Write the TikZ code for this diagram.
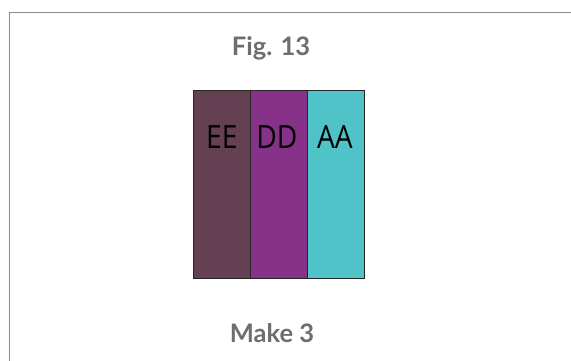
\documentclass[tikz,border=0pt]{standalone}
\usepackage{fontspec}
\newfontfamily\titlefont{Lato}
\newfontfamily\labfont{Open Sans}
\definecolor{frame}{HTML}{8C8C8C}
\definecolor{titlegray}{HTML}{6E6E6E}
\definecolor{ee}{HTML}{654052}
\definecolor{dd}{HTML}{863288}
\definecolor{aa}{HTML}{4FC3C8}
\tikzset{
  col/.style={draw=black!85, line width=0.8pt, minimum width=57pt, minimum height=187.5pt, inner sep=0pt, anchor=north west},
  lab/.style={anchor=base, font=\labfont\fontsize{32}{36}\selectfont, text=black, inner sep=0pt},
  ttl/.style={anchor=base, font=\titlefont\bfseries\fontsize{25.5}{29}\selectfont, text=titlegray, inner sep=0pt}
}
\begin{document}
\begin{tikzpicture}[x=1pt,y=-1pt]
\useasboundingbox (0,0) rectangle (571,360);
\fill[white] (0,0) rectangle (571,360);
\draw[frame, line width=1pt] (9,370) -- (9,12) -- (580,12);
\node[ttl] (title) at (271,55) {Fig. 13};
\node[col, fill=ee] (ce) at (193,90.3) {};
\node[col, fill=dd] (cd) at (250,90.3) {};
\node[col, fill=aa] (ca) at (307,90.3) {};
\node[lab, xscale=0.88] (le) at ([yshift=-58.5pt]ce.north) {EE};
\node[lab, xscale=0.88] (ld) at ([yshift=-58.5pt, xshift=-2pt]cd.north) {DD};
\node[lab, xscale=0.88] (la) at ([yshift=-58.5pt, xshift=-1pt]ca.north) {AA};
\node[ttl] (make) at (272,342.7) {Make 3};
\end{tikzpicture}
\end{document}
